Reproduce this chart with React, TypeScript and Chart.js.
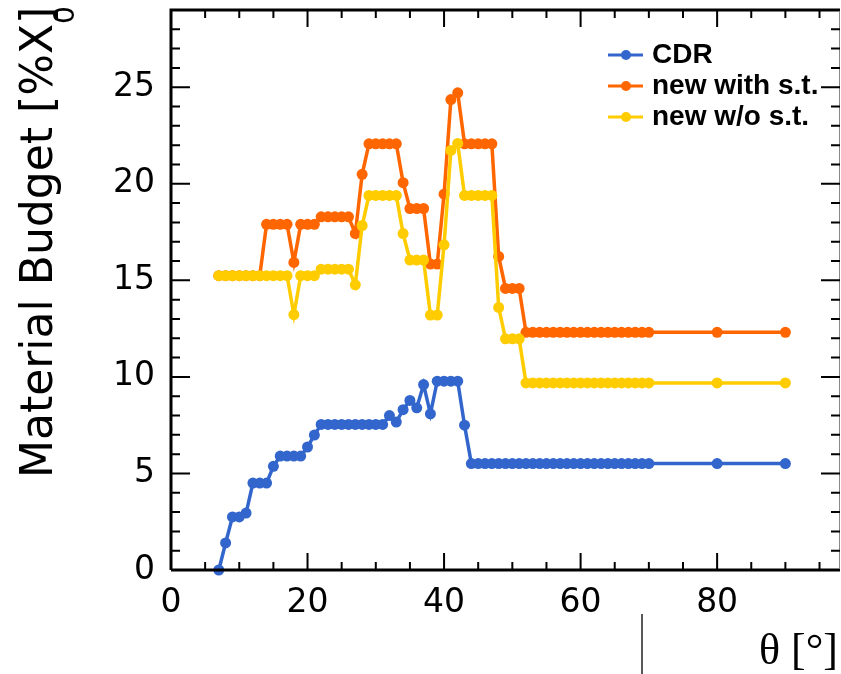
import React, { useEffect, useRef } from 'react';
import { Chart, registerables } from 'chart.js';

Chart.register(...registerables);

const thetaDeg = [
  7, 8, 9, 10, 11, 12, 13, 14, 15, 16, 17, 18, 19, 20, 21, 22, 23, 24, 25, 26,
  27, 28, 29, 30, 31, 32, 33, 34, 35, 36, 37, 38, 39, 40, 41, 42, 43, 44, 45, 46,
  47, 48, 49, 50, 51, 52, 53, 54, 55, 56, 57, 58, 59, 60, 61, 62, 63, 64, 65, 66,
  67, 68, 69, 70, 80, 90,
];

const cdrBudget = [
  0, 1.4, 2.75, 2.75, 2.95, 4.5, 4.5, 4.5, 5.37, 5.9, 5.9, 5.9, 5.9, 6.37, 6.99,
  7.54, 7.54, 7.54, 7.54, 7.54, 7.54, 7.54, 7.54, 7.54, 7.54,
  8.0, 7.66, 8.3, 8.78, 8.4, 9.6, 8.09,
  9.78, 9.78, 9.78, 9.78, 7.5,
  5.51, 5.51, 5.51, 5.51, 5.51, 5.51, 5.51, 5.51, 5.51, 5.51, 5.51, 5.51, 5.51, 5.51,
  5.51, 5.51, 5.51, 5.51, 5.51, 5.51, 5.51, 5.51, 5.51, 5.51, 5.51, 5.51, 5.51,
  5.51, 5.51,
];

const newWithSt = [
  15.24, 15.24, 15.24, 15.24, 15.24, 15.24, 15.24,
  17.9, 17.9, 17.9, 17.9, 15.93, 17.9, 17.9, 17.9,
  18.29, 18.29, 18.29, 18.29, 18.29, 17.42, 20.49,
  22.07, 22.07, 22.07, 22.07, 22.07, 20.06, 18.72, 18.72, 18.72, 15.84, 15.84,
  19.46, 24.36, 24.71, 22.07, 22.07, 22.07, 22.07, 22.07, 16.24, 14.58, 14.58, 14.58,
  12.31, 12.31, 12.31, 12.31, 12.31, 12.31, 12.31, 12.31, 12.31, 12.31,
  12.31, 12.31, 12.31, 12.31, 12.31, 12.31, 12.31, 12.31, 12.31,
  12.31, 12.31,
];

const newWithoutSt = [
  15.24, 15.24, 15.24, 15.24, 15.24, 15.24, 15.24, 15.24, 15.24, 15.24, 15.24,
  13.22, 15.24, 15.24, 15.24,
  15.58, 15.58, 15.58, 15.58, 15.58, 14.77, 17.84,
  19.4, 19.4, 19.4, 19.4, 19.4, 17.42, 16.05, 16.05, 16.05, 13.2, 13.2,
  16.84, 21.73, 22.09, 19.4, 19.4, 19.4, 19.4, 19.4, 13.6, 11.97, 11.97, 11.97,
  9.69, 9.69, 9.69, 9.69, 9.69, 9.69, 9.69, 9.69, 9.69, 9.69,
  9.69, 9.69, 9.69, 9.69, 9.69, 9.69, 9.69, 9.69, 9.69,
  9.69, 9.69,
];

const seriesLabels = ['CDR', 'new with s.t.', 'new w/o s.t.'];
const seriesColors = ['#3366cc', '#ff6600', '#ffcc00'];
const xMajorTicks = [0, 20, 40, 60, 80];
const yMajorTicks = [0, 5, 10, 15, 20, 25];
const yTitleMain = 'Material Budget [%X';
const yTitleSub = '0';
const yTitleEnd = ']';
const xTitle = 'θ [°]';

const X_MIN = 0;
const X_MAX = 98;
const Y_MIN = 0;
const Y_MAX = 29;

const decorPlugin = {
  id: 'rootDecor',
  afterDraw(chart: any) {
    const { ctx, chartArea } = chart;
    const xs = chart.scales.x;
    const ys = chart.scales.y;
    const { left, right, top, bottom } = chartArea;
    ctx.save();

    // frame
    ctx.strokeStyle = '#000';
    ctx.lineWidth = 3;
    ctx.beginPath();
    ctx.moveTo(left, bottom);
    ctx.lineTo(right, bottom);
    ctx.moveTo(left, bottom);
    ctx.lineTo(left, top);
    ctx.lineTo(right, top);
    ctx.stroke();
    ctx.strokeStyle = '#888';
    ctx.lineWidth = 1;
    ctx.beginPath();
    ctx.moveTo(right - 0.5, top);
    ctx.lineTo(right - 0.5, bottom);
    ctx.stroke();

    // ticks
    ctx.strokeStyle = '#000';
    ctx.lineWidth = 2;
    ctx.beginPath();
    for (let v = X_MIN; v <= X_MAX; v += 5) {
      const px = xs.getPixelForValue(v);
      const len = v % 20 === 0 ? 17 : 8;
      ctx.moveTo(px, bottom);
      ctx.lineTo(px, bottom - len);
      ctx.moveTo(px, top);
      ctx.lineTo(px, top + len);
    }
    for (let v = Y_MIN; v <= Y_MAX; v += 1) {
      const py = ys.getPixelForValue(v);
      const len = v % 5 === 0 ? 19 : 9;
      ctx.moveTo(left, py);
      ctx.lineTo(left + len, py);
      ctx.moveTo(right, py);
      ctx.lineTo(right - len, py);
    }
    ctx.stroke();

    // y-axis title (rotated, with subscript)
    ctx.fillStyle = '#000';
    ctx.save();
    ctx.translate(52, 478);
    ctx.rotate(-Math.PI / 2);
    ctx.textAlign = 'left';
    ctx.textBaseline = 'alphabetic';
    ctx.font = '44px "DejaVu Sans"';
    ctx.fillText(yTitleMain, 0, 0);
    const w = ctx.measureText(yTitleMain).width;
    ctx.fillText(yTitleEnd, w, 0);
    ctx.font = '28px "DejaVu Sans"';
    ctx.fillText(yTitleSub, w, 22);
    ctx.restore();

    // x-axis title
    ctx.font = '44px "Liberation Serif"';
    ctx.textAlign = 'right';
    ctx.textBaseline = 'alphabetic';
    ctx.fillText(xTitle, 838, 664);

    // stray separator line
    ctx.strokeStyle = '#222';
    ctx.lineWidth = 1.5;
    ctx.beginPath();
    ctx.moveTo(642, 614);
    ctx.lineTo(642, 674);
    ctx.stroke();

    // legend
    chart.data.datasets.forEach((ds: any, i: number) => {
      const rowY = 55 + i * 31;
      ctx.strokeStyle = ds.borderColor;
      ctx.lineWidth = 3;
      ctx.beginPath();
      ctx.moveTo(608, rowY);
      ctx.lineTo(643, rowY);
      ctx.stroke();
      ctx.fillStyle = ds.borderColor;
      ctx.beginPath();
      ctx.arc(626, rowY, 5, 0, Math.PI * 2);
      ctx.fill();
      ctx.fillStyle = '#000';
      ctx.font = 'bold 28px "Liberation Sans"';
      ctx.textAlign = 'left';
      ctx.textBaseline = 'alphabetic';
      ctx.fillText(ds.label, 652, rowY + 8);
    });

    ctx.restore();
  },
};

function makeDataset(label: string, values: number[], color: string, order: number) {
  return {
    label,
    data: thetaDeg.map((t, i) => ({ x: t, y: values[i] })),
    borderColor: color,
    backgroundColor: color,
    pointBackgroundColor: color,
    pointBorderWidth: 0,
    pointRadius: 5.5,
    borderWidth: 3.5,
    tension: 0,
    clip: false,
    order,
  };
}

function zeroPadding(scale: any) {
  scale.paddingTop = 0;
  scale.paddingBottom = 0;
  scale.paddingLeft = 0;
  scale.paddingRight = 0;
}

export default function App() {
  const canvasRef = useRef<HTMLCanvasElement | null>(null);

  useEffect(() => {
    const canvas = canvasRef.current;
    if (!canvas) return;
    const chart = new Chart(canvas, {
      type: 'line',
      data: {
        datasets: [
          makeDataset(seriesLabels[0], cdrBudget, seriesColors[0], 0),
          makeDataset(seriesLabels[1], newWithSt, seriesColors[1], 2),
          makeDataset(seriesLabels[2], newWithoutSt, seriesColors[2], 1),
        ],
      },
      options: {
        responsive: false,
        animation: false,
        devicePixelRatio: 1,
        layout: { autoPadding: false, padding: { top: 10, right: 1, left: 0, bottom: 0 } },
        plugins: {
          legend: { display: false },
          tooltip: { enabled: false },
          title: { display: false },
        },
        scales: {
          x: {
            type: 'linear',
            min: X_MIN,
            max: X_MAX,
            grid: { display: false, drawTicks: false },
            border: { display: false },
            afterBuildTicks: (scale: any) => {
              scale.ticks = xMajorTicks.map((v) => ({ value: v }));
            },
            afterFit: (scale: any) => {
              scale.height = 104;
              zeroPadding(scale);
            },
            ticks: {
              color: '#000',
              padding: 14,
              maxRotation: 0,
              font: { family: 'DejaVu Sans', size: 33 },
            },
          },
          y: {
            type: 'linear',
            min: Y_MIN,
            max: Y_MAX,
            grid: { display: false, drawTicks: false },
            border: { display: false },
            afterBuildTicks: (scale: any) => {
              scale.ticks = yMajorTicks.map((v) => ({ value: v }));
            },
            afterFit: (scale: any) => {
              scale.width = 171;
              zeroPadding(scale);
            },
            ticks: {
              color: '#000',
              padding: 16,
              font: { family: 'DejaVu Sans', size: 33 },
            },
          },
        },
      },
      plugins: [decorPlugin],
    } as any);
    return () => chart.destroy();
  }, []);

  return (
    <div style={{ position: 'fixed', left: 0, top: 0, width: 841, height: 674, background: '#fff' }}>
      <canvas ref={canvasRef} width={841} height={674} style={{ display: 'block' }} />
    </div>
  );
}
